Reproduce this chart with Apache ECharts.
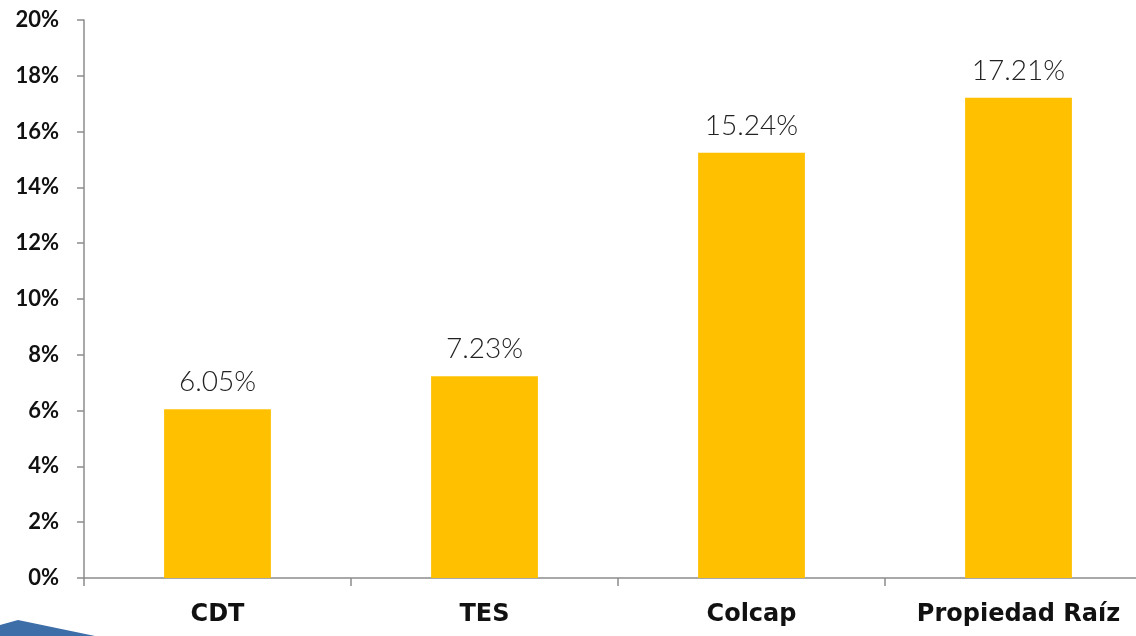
<!DOCTYPE html>
<html><head><meta charset="utf-8">
<script src="https://cdn.jsdelivr.net/npm/echarts@6/dist/echarts.min.js"></script>
<style>html,body{margin:0;padding:0;background:#fff;overflow:hidden;width:1136px;height:636px}#c{width:1152px;height:636px}</style>
</head><body><div id="c"></div>
<script>
const categories = ['CDT', 'TES', 'Colcap', 'Propiedad Raíz'];
const values = [6.05, 7.23, 15.24, 17.21];
const yMin = 0, yMax = 20, yStep = 2;

const chart = echarts.init(document.getElementById('c'), null, {renderer: 'canvas'});
chart.setOption({
  animation: false,
  grid: {left: 84, right: 0, top: 20, bottom: 58, containLabel: false},
  xAxis: {
    type: 'category', data: categories,
    axisLine: {lineStyle: {color: '#8c8c8c', width: 1.5}},
    axisTick: {show: true, length: 8, alignWithLabel: false, lineStyle: {color: '#8c8c8c', width: 1.5}},
    axisLabel: {margin: 25, color: '#111', fontFamily: 'DejaVu Sans', fontWeight: 'bold', fontSize: 24}
  },
  yAxis: {
    type: 'value', min: yMin, max: yMax, interval: yStep,
    axisLine: {show: true, lineStyle: {color: '#8c8c8c', width: 1.5}},
    axisTick: {show: true, length: 7, lineStyle: {color: '#8c8c8c', width: 1.5}},
    splitLine: {show: false},
    axisLabel: {margin: 25, formatter: v => v + '%', color: '#111', fontFamily: 'Lato', fontWeight: 'bold', fontSize: 22}
  },
  series: [{
    type: 'bar', data: values, barWidth: '40%',
    itemStyle: {color: '#FFC000'},
    label: {show: true, position: 'top', distance: 13, formatter: p => p.value.toFixed(2) + '%',
      color: '#222', fontFamily: 'Lato', fontWeight: 300, fontSize: 28}
  }],
  graphic: [{
    type: 'polygon', silent: true,
    shape: {points: [[0, 625], [18, 620], [95, 636], [0, 636]]},
    style: {fill: '#3d6ea8'}
  }]
});
</script></body></html>
